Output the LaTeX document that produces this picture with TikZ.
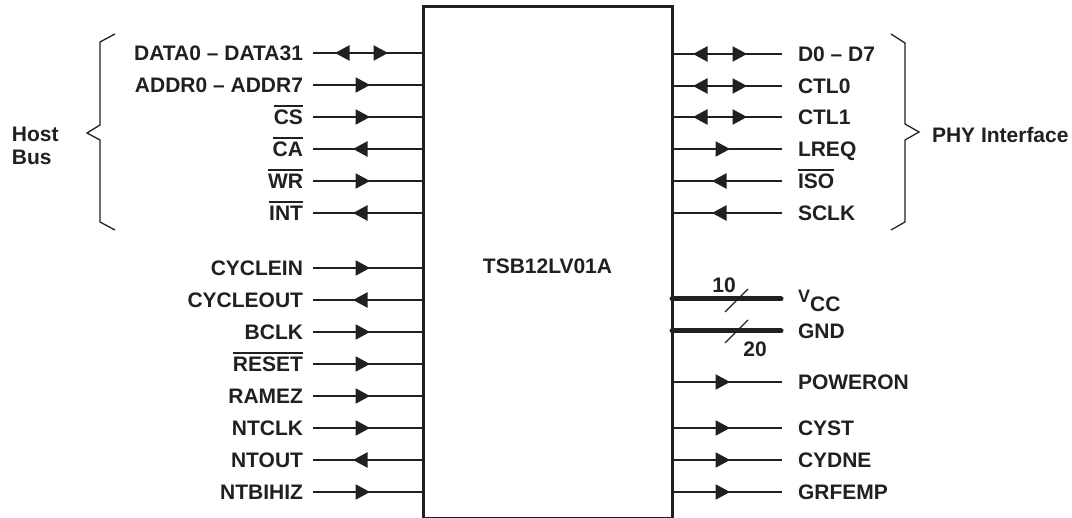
\documentclass[tikz,border=0pt]{standalone}
\usepackage{fontspec}
\setmainfont{Liberation Sans}
\definecolor{ink}{HTML}{231F20}
\newcommand\ovl[1]{\leavevmode\vbox{\hrule height 1.9pt\kern 2.8pt\hbox{#1}}}
\newcommand\trR[2]{\fill[ink] (#1,#2) -- ++(-14.5,7.8) -- ++(0,-15.6) -- cycle;}
\newcommand\trL[2]{\fill[ink] (#1,#2) -- ++(14.5,7.8) -- ++(0,-15.6) -- cycle;}
\tikzset{
  lab/.style={inner sep=0pt, outer sep=0pt, text height=15pt, text depth=0pt, text=ink,
    font=\fontsize{21}{25}\selectfont\bfseries},
  sig/.style={draw=ink, line width=1.3pt},
  pwr/.style={draw=ink, line width=5pt, line cap=round},
  brace/.style={draw=ink, line width=1.3pt, line join=miter},
}
\begin{document}
\begin{tikzpicture}[x=1pt, y=-1pt]
\useasboundingbox (0,0) rectangle (1072,518);
\node[draw=ink, line width=3pt, outer sep=0pt, inner sep=0pt, minimum width=249pt, minimum height=511.5pt, anchor=north west] (chip) at (423,7) {};
\node[lab] (name) at (547.5,266) {TSB12LV01A};

% left side labels and lines
\foreach \n/\y/\t in {a1/53/{DATA0 -- DATA31}, a2/85/{ADDR0 -- ADDR7}, a3/117/{\ovl{CS}}, a4/149/{\ovl{CA}}, a5/181/{\ovl{WR}}, a6/213/{\ovl{INT}},
  b1/268/CYCLEIN, b2/300/CYCLEOUT, b3/332/BCLK, b4/364/{\ovl{RESET}}, b5/396/RAMEZ, b6/428/NTCLK, b7/460/NTOUT, b8/492/NTBIHIZ}{
  \node[lab, anchor=east] (\n) at (303,\y) {\t};
  \coordinate (\n s) at (313,\y);
  \draw[sig] (\n s) -- (\n s -| chip.west);
}
% left arrowheads
\trL{335}{53}\trR{388}{53}
\foreach \y in {85,117,181,268,332,364,396,428,492} {\trR{370}{\y}}
\foreach \y in {149,213,300,460} {\trL{353}{\y}}

% right side labels and lines
\foreach \n/\y/\t in {c1/54/{D0 -- D7}, c2/86/CTL0, c3/117/CTL1, c4/149/LREQ, c5/181/{\ovl{ISO}}, c6/213/SCLK,
  d1/382/POWERON, d2/428/CYST, d3/460/CYDNE, d4/492/GRFEMP}{
  \node[lab, anchor=west] (\n) at (798,\y) {\t};
  \coordinate (\n s) at (782,\y);
  \draw[sig] (\n s -| chip.east) -- (\n s);
}
% right arrowheads
\foreach \y in {54,86,117} {\trL{693}{\y}\trR{747}{\y}}
\foreach \y in {149,382,428,460,492} {\trR{730}{\y}}
\foreach \y in {181,213} {\trL{712}{\y}}

% power
\coordinate (vcc) at (781,299);
\coordinate (gnd) at (781,331);
\draw[pwr] (vcc -| chip.east) -- (vcc);
\draw[pwr] (gnd -| chip.east) -- (gnd);
\draw[sig] (725,312) -- (748,289);
\draw[sig] (725,343) -- (748,320);
\node[lab] (n10) at (724,285) {10};
\node[lab] (n20) at (755,349) {20};
\node[inner sep=0pt, anchor=base west, text=ink, font=\fontsize{21}{25}\selectfont\bfseries] (vccl) at (798,312) {\raisebox{9pt}{\fontsize{18}{20}\selectfont V}CC};
\node[lab, anchor=west] (gndl) at (798,331) {GND};

% braces
\draw[brace] (115,34) -- (100,42) -- (100,125) -- (87,133) -- (100,140) -- (100,222) -- (115,230);
\draw[brace] (891,34) -- (905,43) -- (905,124) -- (919,132) -- (905,140) -- (905,222) -- (891,230);
\node[lab, anchor=base west] (host) at (12,142) {Host};
\node[lab, anchor=base west] (bus) at (12,165) {Bus};
\node[lab, anchor=base west] (phy) at (932,143) {PHY Interface};
\end{tikzpicture}
\end{document}
